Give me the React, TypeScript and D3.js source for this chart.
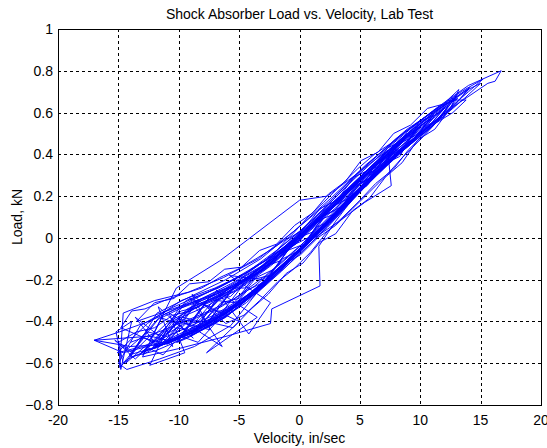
import React from 'react';
import * as d3 from 'd3';

// load (kN) vs velocity (in/sec) samples, in recording order
const run1: [number, number][] = [
  [-14.0, -0.50], [-11.2, -0.44], [-8.3, -0.37], [-5.6, -0.30], [-2.8, -0.18], [0.2, -0.03], [3.1, 0.14], [6.0, 0.31], [8.8, 0.46], [12.0, 0.62],
  [10.5, 0.52], [7.6, 0.38], [4.7, 0.22], [1.9, 0.06], [-0.9, -0.09], [-3.7, -0.23], [-6.5, -0.33], [-9.2, -0.40], [-11.0, -0.46],
  [-8.4, -0.30], [-5.7, -0.22], [-3.0, -0.13], [-0.1, 0.01], [2.8, 0.17], [5.5, 0.32], [8.9, 0.50],
  [7.3, 0.37], [4.4, 0.19], [1.6, 0.03], [-1.3, -0.12], [-4.2, -0.27], [-7.1, -0.37], [-10.1, -0.45], [-13.0, -0.52], [-15.1, -0.55],
  [-12.6, -0.41], [-9.8, -0.30], [-7.0, -0.24], [-4.1, -0.16], [-1.2, -0.04], [1.7, 0.12], [4.5, 0.28], [7.3, 0.43], [10.2, 0.57], [12.4, 0.65], [14.1, 0.72],
  [12.9, 0.64], [10.6, 0.53], [8.0, 0.41], [5.3, 0.25], [2.5, 0.08], [-0.3, -0.08], [-3.2, -0.24], [-6.1, -0.38], [-9.0, -0.47],
  [-6.6, -0.27], [-3.8, -0.18], [-1.0, -0.06], [1.8, 0.09], [4.6, 0.25], [6.4, 0.35], [8.1, 0.45],
  [6.7, 0.34], [4.0, 0.18], [1.2, 0.01], [-1.7, -0.15], [-4.6, -0.29], [-7.5, -0.39], [-10.3, -0.47], [-12.1, -0.52],
  [-10.0, -0.34], [-7.2, -0.28], [-4.4, -0.19], [-1.5, -0.07], [1.4, 0.08], [4.2, 0.24], [7.0, 0.40], [9.4, 0.52], [11.1, 0.59],
  [9.9, 0.50], [7.2, 0.36], [4.3, 0.18], [3.0, 0.08], [1.6, -0.04], [1.7, -0.23], [-2.3, -0.34], [-2.4, -0.41], [-6.0, -0.47], [-10.0, -0.53], [-13.0, -0.57],
];

const run2: [number, number][] = [
  [-11.3, -0.37], [-8.6, -0.29], [-5.8, -0.21], [-2.9, -0.11], [0.0, 0.03], [2.9, 0.19], [5.8, 0.36], [8.6, 0.50], [11.2, 0.61], [13.0, 0.68],
  [11.6, 0.57], [8.8, 0.43], [6.1, 0.29], [3.3, 0.13], [0.5, -0.03], [-2.4, -0.19], [-5.3, -0.34], [-8.1, -0.44], [-10.2, -0.50],
  [-7.9, -0.32], [-5.1, -0.25], [-2.3, -0.13], [0.6, 0.02], [3.5, 0.17], [6.3, 0.33], [8.3, 0.45], [10.1, 0.54],
  [8.7, 0.44], [5.9, 0.28], [3.0, 0.11], [0.2, -0.05], [-2.7, -0.20], [-5.6, -0.33], [-8.6, -0.43], [-11.5, -0.51], [-14.2, -0.58], [-14.9, -0.62],
  [-14.6, -0.36], [-12.0, -0.30], [-9.2, -0.26], [-6.3, -0.19], [-3.4, -0.10], [-0.5, 0.03], [2.4, 0.17], [5.2, 0.33], [8.1, 0.48], [10.9, 0.60], [13.4, 0.70], [15.2, 0.76],
  [14.0, 0.70], [11.8, 0.59], [9.3, 0.47], [6.6, 0.33], [3.8, 0.17], [1.0, 0.00], [-1.9, -0.16], [-4.8, -0.31], [-7.8, -0.42],
  [-5.5, -0.24], [-2.6, -0.12], [0.3, 0.03], [3.2, 0.18], [5.6, 0.31], [7.2, 0.40],
  [5.4, 0.26], [2.6, 0.09], [-0.2, -0.07], [-3.1, -0.23], [-6.0, -0.36], [-9.0, -0.45], [-12.0, -0.53],
  [-9.4, -0.30], [-6.7, -0.24], [-3.9, -0.15], [-1.1, -0.04], [1.9, 0.11], [4.8, 0.27], [7.6, 0.42], [10.3, 0.56], [12.1, 0.63],
  [10.8, 0.54], [8.1, 0.40], [5.3, 0.24], [2.5, 0.07], [-0.4, -0.09], [-3.3, -0.25], [-6.2, -0.38], [-9.1, -0.47], [-11.9, -0.54], [-14.0, -0.57],
];

const run3: [number, number][] = [
  [-11.8, -0.36], [-9.0, -0.28], [-6.1, -0.20], [-3.2, -0.10], [-0.3, 0.04], [2.6, 0.19], [5.5, 0.35], [8.4, 0.49], [11.3, 0.62], [14.0, 0.73], [16.7, 0.80],
  [16.2, 0.75], [15.6, 0.74], [13.3, 0.65], [10.7, 0.52], [8.0, 0.39], [5.2, 0.23], [2.3, 0.05], [-0.6, -0.11], [-3.5, -0.26], [-6.4, -0.39], [-9.3, -0.48], [-10.1, -0.50],
  [-7.6, -0.30], [-4.8, -0.21], [-2.0, -0.09], [0.9, 0.06], [3.8, 0.22], [6.6, 0.38], [8.9, 0.49],
  [7.4, 0.39], [4.6, 0.21], [1.8, 0.04], [-1.1, -0.13], [-4.0, -0.28], [-6.9, -0.39], [-9.8, -0.47], [-11.1, -0.50],
  [-8.8, -0.33], [-6.0, -0.26], [-3.1, -0.15], [-0.2, -0.01], [2.7, 0.15], [5.6, 0.32], [8.4, 0.47], [11.0, 0.58],
  [9.6, 0.48], [6.9, 0.34], [4.1, 0.18], [1.3, 0.02], [-1.6, -0.14], [-4.5, -0.30], [-7.4, -0.41], [-10.3, -0.49], [-13.1, -0.55],
  [-10.6, -0.40], [-7.8, -0.33], [-5.0, -0.24], [-2.2, -0.12], [0.7, 0.03], [3.6, 0.19], [6.4, 0.35], [9.2, 0.50], [11.7, 0.61], [13.1, 0.67],
  [11.9, 0.58], [9.2, 0.45], [6.4, 0.30], [3.6, 0.14], [0.8, -0.02], [-2.1, -0.18], [-5.0, -0.32], [-7.0, -0.40],
  [-4.6, -0.22], [-1.8, -0.10], [1.1, 0.06], [3.9, 0.20], [6.0, 0.32],
  [4.2, 0.17], [1.4, 0.00], [-1.5, -0.16], [-4.4, -0.31], [-7.3, -0.42], [-9.9, -0.48], [-12.2, -0.53],
];

const run4: [number, number][] = [
  [-9.7, -0.36], [-6.9, -0.29], [-4.0, -0.19], [-1.2, -0.06], [1.7, 0.09], [4.6, 0.25], [7.5, 0.41], [9.9, 0.53],
  [8.4, 0.43], [5.7, 0.28], [2.9, 0.12], [0.1, -0.05], [-2.8, -0.21], [-5.7, -0.42], [-8.7, -0.52], [-11.6, -0.58], [-14.3, -0.63], [-15.0, -0.60],
  [-13.2, -0.42], [-10.4, -0.33], [-7.6, -0.26], [-4.7, -0.18], [-1.9, -0.06], [1.0, 0.08], [3.9, 0.23], [6.8, 0.39], [9.7, 0.54], [12.2, 0.64], [14.0, 0.71],
  [12.6, 0.62], [10.0, 0.50], [7.3, 0.37], [4.5, 0.21], [1.7, 0.05], [-1.2, -0.12], [-4.1, -0.27], [-7.0, -0.38], [-9.1, -0.44],
  [-6.7, -0.30], [-3.9, -0.17], [-1.0, -0.03], [1.9, 0.12], [4.8, 0.28], [7.9, 0.45],
  [6.2, 0.31], [3.4, 0.15], [0.6, -0.02], [-2.3, -0.18], [-5.2, -0.32], [-8.1, -0.43], [-11.0, -0.51],
  [-8.5, -0.31], [-5.7, -0.24], [-2.8, -0.14], [0.1, 0.01], [3.0, 0.16], [5.9, 0.33], [8.8, 0.48], [11.5, 0.60], [12.3, 0.63],
  [10.9, 0.53], [8.2, 0.40], [5.4, 0.25], [2.6, 0.09], [-0.3, -0.07], [-3.2, -0.22], [-6.1, -0.36], [-9.0, -0.46], [-11.8, -0.52], [-13.0, -0.56],
  [-10.5, -0.39], [-7.7, -0.31], [-4.9, -0.23], [-2.1, -0.11], [0.8, 0.04], [3.7, 0.20], [6.6, 0.36], [9.4, 0.50], [11.2, 0.58],
  [9.8, 0.49], [7.1, 0.35], [4.3, 0.19], [1.5, 0.03], [-1.4, -0.13], [-4.3, -0.29], [-7.2, -0.40], [-9.9, -0.47],
];

const run5: [number, number][] = [
  [-7.4, -0.28], [-4.6, -0.20], [-1.7, -0.08], [1.2, 0.07], [4.1, 0.23], [7.0, 0.39], [9.1, 0.50],
  [7.7, 0.40], [4.9, 0.23], [2.1, 0.07], [-0.8, -0.10], [-3.7, -0.25], [-6.6, -0.37], [-9.5, -0.46], [-12.3, -0.53], [-14.1, -0.56],
  [-11.7, -0.39], [-8.9, -0.31], [-6.1, -0.24], [-3.2, -0.14], [-0.4, 0.00], [2.5, 0.15], [5.4, 0.31], [8.3, 0.47], [11.1, 0.60], [13.6, 0.70], [15.0, 0.74],
  [13.7, 0.67], [11.1, 0.55], [8.5, 0.42], [5.7, 0.27], [2.9, 0.10], [0.1, -0.06], [-2.8, -0.22], [-5.7, -0.36], [-7.9, -0.43],
  [-5.3, -0.23], [-2.5, -0.12], [0.4, 0.03], [3.3, 0.18], [6.1, 0.34], [7.0, 0.39],
  [5.0, 0.24], [2.2, 0.07], [-0.7, -0.09], [-3.6, -0.25], [-6.5, -0.37], [-9.4, -0.46], [-11.9, -0.52],
  [-9.3, -0.34], [-6.5, -0.27], [-3.6, -0.16], [-0.8, -0.03], [2.1, 0.12], [5.0, 0.28], [7.9, 0.44], [10.7, 0.58], [12.9, 0.67],
  [11.5, 0.57], [8.9, 0.44], [6.1, 0.29], [3.3, 0.12], [0.5, -0.04], [-2.4, -0.20], [-5.3, -0.33], [-8.3, -0.44], [-11.2, -0.51], [-14.0, -0.52], [-17.0, -0.49],
  [-12.2, -0.47], [-10.2, -0.24], [-6.6, -0.11], [0.0, 0.18], [2.3, 0.20], [4.6, 0.30], [7.3, 0.42], [7.6, 0.25], [5.4, 0.17], [3.3, 0.08], [0.2, -0.04],
  [-2.7, -0.20], [-5.6, -0.34], [-8.6, -0.44], [-11.3, -0.50], [-14.6, -0.55], [-17.0, -0.49], [-14.9, -0.45], [-12.5, -0.40], [-9.8, -0.33], [-7.0, -0.27],
];

const run6: [number, number][] = [
  [-13.5, -0.40], [-12.0, -0.31], [-10.4, -0.29], [-9.1, -0.22], [-7.5, -0.21], [-6.2, -0.15], [-4.8, -0.14], [-3.3, -0.06], [-1.9, -0.03], [-0.4, 0.06],
  [1.1, 0.12], [2.4, 0.21], [3.8, 0.27], [5.1, 0.37], [6.5, 0.41], [7.8, 0.50], [9.2, 0.54], [10.6, 0.62], [11.9, 0.64], [13.2, 0.71],
  [12.5, 0.62], [11.2, 0.52], [9.8, 0.47], [8.5, 0.36], [7.1, 0.29], [5.8, 0.19], [4.4, 0.13], [3.0, 0.02], [1.7, -0.02], [0.3, -0.12],
  [-1.1, -0.17], [-2.6, -0.27], [-4.0, -0.34], [-5.5, -0.43], [-7.0, -0.41], [-8.4, -0.50], [-9.9, -0.47], [-11.3, -0.56], [-12.8, -0.52], [-14.4, -0.60],
  [-13.0, -0.47], [-11.6, -0.38], [-10.1, -0.41], [-8.7, -0.31], [-7.3, -0.33], [-5.9, -0.24], [-4.5, -0.24], [-3.0, -0.14], [-1.6, -0.11], [-0.2, 0.00],
  [1.2, 0.03], [2.7, 0.15], [4.1, 0.19], [5.5, 0.30], [6.9, 0.35], [8.2, 0.45], [9.6, 0.49], [10.9, 0.57],
  [9.9, 0.53], [8.6, 0.43], [7.2, 0.40], [5.9, 0.29], [4.5, 0.24], [3.2, 0.12], [1.8, 0.09], [0.4, -0.03], [-1.0, -0.06], [-2.5, -0.18],
  [-3.9, -0.20], [-5.4, -0.31], [-6.8, -0.30], [-8.2, -0.40], [-9.7, -0.38], [-11.1, -0.47], [-12.6, -0.45], [-14.2, -0.53], [-15.3, -0.49],
  [-13.6, -0.58], [-11.0, -0.44], [-12.4, -0.61], [-9.5, -0.55], [-10.8, -0.36], [-8.0, -0.46], [-6.4, -0.52], [-9.1, -0.29], [-5.0, -0.40],
  [-7.7, -0.55], [-3.5, -0.38], [-6.9, -0.25], [-4.2, -0.46], [-2.4, -0.31], [-5.8, -0.18], [-3.0, -0.20],
  [-1.4, -0.13], [0.1, -0.08], [1.5, 0.00], [3.0, 0.06], [4.4, 0.14], [5.8, 0.22], [7.2, 0.30], [8.6, 0.39], [10.0, 0.47], [11.3, 0.55], [12.7, 0.60], [13.8, 0.66],
  [12.9, 0.66], [11.6, 0.63], [10.2, 0.57], [8.9, 0.52], [7.5, 0.45], [6.2, 0.40], [4.8, 0.33], [3.4, 0.25], [2.0, 0.17], [0.7, 0.10],
  [-0.7, 0.01], [-2.2, -0.05], [-3.6, -0.10], [-5.1, -0.15], [-6.6, -0.19], [-8.1, -0.24], [-9.7, -0.27], [-11.2, -0.30], [-12.8, -0.34], [-13.9, -0.35],
];

const run7: [number, number][] = [
  [-14.8, -0.43], [-12.0, -0.50], [-13.6, -0.38], [-10.5, -0.52], [-11.7, -0.33], [-8.8, -0.48], [-10.2, -0.40], [-7.4, -0.44], [-8.9, -0.27], [-6.1, -0.41],
  [-4.6, -0.37], [-3.3, -0.30], [-1.8, -0.21], [-0.5, -0.15], [0.9, -0.07], [2.3, 0.03], [3.6, 0.10], [5.0, 0.18], [6.3, 0.26], [7.8, 0.33], [9.0, 0.42], [10.4, 0.50], [11.8, 0.58],
  [10.7, 0.54], [9.3, 0.48], [8.0, 0.42], [6.6, 0.36], [5.2, 0.28], [3.9, 0.22], [2.5, 0.13], [1.1, 0.06], [-0.3, -0.03], [-1.7, -0.08],
  [-3.2, -0.16], [-4.6, -0.21], [-6.1, -0.27], [-7.6, -0.30], [-9.0, -0.35], [-10.5, -0.37], [-12.0, -0.43], [-13.5, -0.45], [-15.0, -0.50],
  [-14.8, -0.63], [-13.9, -0.40], [-15.2, -0.45], [-14.6, -0.60], [-12.9, -0.48], [-11.5, -0.50], [-10.0, -0.39], [-8.6, -0.40], [-7.1, -0.30], [-5.7, -0.28],
  [-4.2, -0.19], [-2.8, -0.15], [-1.3, -0.05], [0.1, -0.01], [1.5, 0.09], [2.9, 0.13], [4.3, 0.24], [5.7, 0.28], [7.0, 0.38], [8.4, 0.42], [9.5, 0.51],
  [8.3, 0.39], [6.9, 0.35], [5.6, 0.25], [4.2, 0.20], [2.8, 0.09], [1.4, 0.05], [0.0, -0.06], [-1.4, -0.10], [-2.9, -0.21], [-4.3, -0.25],
  [-5.8, -0.35], [-7.2, -0.35], [-8.7, -0.45], [-10.2, -0.43], [-11.6, -0.52], [-12.5, -0.49],
  [-11.2, -0.42], [-9.8, -0.35], [-8.3, -0.33], [-6.9, -0.26], [-5.4, -0.23], [-4.0, -0.15], [-2.5, -0.10], [-1.1, -0.01], [0.3, 0.04], [1.7, 0.14],
  [3.1, 0.18], [4.5, 0.29], [5.9, 0.33], [7.3, 0.43], [8.6, 0.47], [10.0, 0.56], [11.4, 0.59], [12.6, 0.66],
  [11.6, 0.57], [10.3, 0.53], [9.0, 0.44], [7.6, 0.40], [6.3, 0.30], [4.9, 0.26], [3.5, 0.15], [2.1, 0.11], [0.7, 0.00], [-0.7, -0.04],
  [-2.1, -0.15], [-3.6, -0.19], [-5.0, -0.29], [-6.5, -0.31], [-7.9, -0.40], [-9.4, -0.41], [-10.9, -0.49], [-12.4, -0.47], [-13.8, -0.55], [-14.7, -0.52],
];

const xTicks = [-20, -15, -10, -5, 0, 5, 10, 15, 20];
const yTicks = [-0.8, -0.6, -0.4, -0.2, 0, 0.2, 0.4, 0.6, 0.8, 1];

const W = 547;
const H = 448;
const margin = { top: 29, right: 6, bottom: 43, left: 58 };
const font = '"Liberation Sans", Arial, Helvetica, sans-serif';

export default function App() {
  const trace = [...run1, ...run2, ...run3, ...run4, ...run5, ...run6, ...run7];

  const x = d3.scaleLinear().domain([-20, 20]).range([margin.left, W - margin.right]);
  const y = d3.scaleLinear().domain([-0.8, 1]).range([H - margin.bottom, margin.top]);

  const line = d3.line<[number, number]>()
    .x(d => x(d[0]))
    .y(d => y(d[1]));

  const x0 = margin.left, x1 = W - margin.right;
  const y0 = margin.top, y1 = H - margin.bottom;
  const px = (v: number) => Math.round(v) + 0.5;

  return (
    <div style={{ position: 'absolute', left: 0, top: 0 }}>
      <svg width={W} height={H} style={{ display: 'block', background: '#fff' }}>
        {/* grid */}
        <g stroke="#000" strokeWidth={1} strokeDasharray="3,3" shapeRendering="crispEdges">
          {xTicks.slice(1, -1).map(t => (
            <line key={'gx' + t} x1={px(x(t))} x2={px(x(t))} y1={y0} y2={y1} />
          ))}
          {yTicks.slice(1, -1).map(t => (
            <line key={'gy' + t} x1={x0} x2={x1} y1={px(y(t))} y2={px(y(t))} />
          ))}
        </g>

        {/* data */}
        <path d={line(trace) || ''} fill="none" stroke="#0000ff" strokeWidth={0.95} strokeLinejoin="round" />

        {/* axes box */}
        <rect x={px(x0)} y={px(y0)} width={Math.round(x1 - x0)} height={Math.round(y1 - y0)}
          fill="none" stroke="#000" strokeWidth={1} shapeRendering="crispEdges" />

        {/* tick labels */}
        <g fontFamily={font} fontSize={14} fill="#000">
          {xTicks.map(t => (
            <text key={'tx' + t} x={x(t)} y={y1 + 20} textAnchor="middle">{t}</text>
          ))}
          {yTicks.map(t => (
            <text key={'ty' + t} x={x0 - 5} y={y(t) + 5} textAnchor="end">{d3.format('~g')(t)}</text>
          ))}
        </g>

        {/* titles */}
        <text x={(x0 + x1) / 2} y={19} textAnchor="middle" fontFamily={font} fontSize={14} fill="#000">
          Shock Absorber Load vs. Velocity, Lab Test
        </text>
        <text x={(x0 + x1) / 2} y={443} textAnchor="middle" fontFamily={font} fontSize={14} fill="#000">
          Velocity, in/sec
        </text>
        <text transform={`translate(22,${(y0 + y1) / 2}) rotate(-90)`} textAnchor="middle"
          fontFamily={font} fontSize={14} fill="#000">
          Load, kN
        </text>
      </svg>
    </div>
  );
}
